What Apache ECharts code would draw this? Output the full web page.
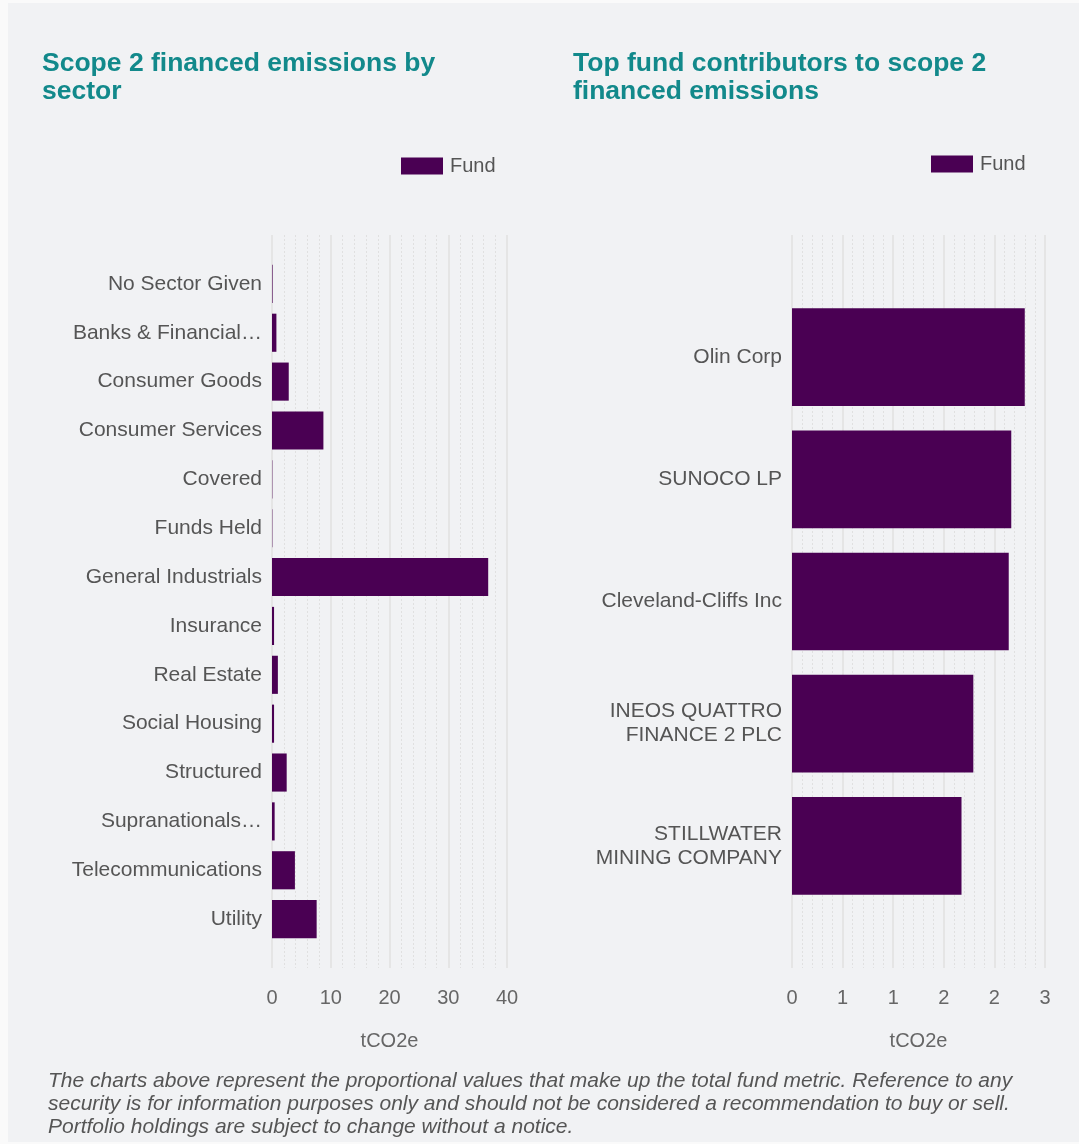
<!DOCTYPE html>
<html>
<head>
<meta charset="utf-8">
<script src="https://cdn.jsdelivr.net/npm/echarts@6/dist/echarts.min.js"></script>
<style>
html,body{margin:0;padding:0;background:#fafafa;}
#c{width:1079px;height:1144px;}
</style>
</head>
<body>
<div id="c"></div>
<script>
// ---- data ----
const sectorCategories = ['No Sector Given','Banks & Financial…','Consumer Goods','Consumer Services','Covered','Funds Held','General Industrials','Insurance','Real Estate','Social Housing','Structured','Supranationals…','Telecommunications','Utility'];
const sectorValues = [0.1, 0.75, 2.85, 8.75, 0.06, 0.06, 36.8, 0.35, 1.0, 0.35, 2.5, 0.45, 3.9, 7.6];
const sectorTicks = [0, 10, 20, 30, 40];

const fundCategories = ['Olin Corp','SUNOCO LP','Cleveland-Cliffs Inc','INEOS QUATTRO\nFINANCE 2 PLC','STILLWATER\nMINING COMPANY'];
const fundValues = [2.76, 2.60, 2.57, 2.15, 2.01];
const fundTicks = [0, 0.6, 1.2, 1.8, 2.4, 3.0];

const seriesName = 'Fund';
const titles = ['Scope 2 financed emissions by\nsector', 'Top fund contributors to scope 2\nfinanced emissions'];
const axisName = 'tCO2e';
const footnote = 'The charts above represent the proportional values that make up the total fund metric. Reference to any\nsecurity is for information purposes only and should not be considered a recommendation to buy or sell.\nPortfolio holdings are subject to change without a notice.';

// ---- layout ----
const FONT = '"Liberation Sans", Arial, sans-serif';
const BAR = '#4a0053';
const TEAL = '#12898b';
const TXT = '#555555';
const plotTop = 235, plotH = 733;
function bandGrid(left, width, n) {
  const step = plotH / (n + 1);
  return { left: left, width: width, top: plotTop + step / 2, height: step * n };
}
const L = { left: 272, width: 235 };
const R = { left: 792, width: 253 };

const chart = echarts.init(document.getElementById('c'));

function bgAxis(gridIndex, ticks, fmt) {
  return {
    type: 'value', gridIndex: gridIndex,
    min: ticks[0], max: ticks[ticks.length - 1], interval: ticks[1] - ticks[0],
    axisLine: { show: false }, axisTick: { show: false },
    axisLabel: { color: '#666', fontSize: 20, fontFamily: FONT, margin: 20, formatter: fmt },
    splitLine: { show: true, lineStyle: { color: '#e0e0e0', width: 1.5 } },
    minorTick: { show: false, splitNumber: 5 },
    minorSplitLine: { show: true, lineStyle: { color: '#e0e0e0', type: [2, 2], width: 1 } },
    name: axisName, nameLocation: 'middle', nameGap: 63,
    nameTextStyle: { color: '#666', fontSize: 20, fontFamily: FONT }
  };
}
function barXAxis(gridIndex, ticks) {
  return {
    type: 'value', gridIndex: gridIndex,
    min: ticks[0], max: ticks[ticks.length - 1], interval: ticks[1] - ticks[0],
    show: false, splitLine: { show: false }
  };
}
function catAxis(gridIndex, cats) {
  return {
    type: 'category', gridIndex: gridIndex, data: cats, inverse: true,
    axisLine: { show: false }, axisTick: { show: false },
    axisLabel: { color: TXT, fontSize: 21, fontFamily: FONT, margin: 10, lineHeight: 24 },
    splitLine: { show: false }
  };
}
function hiddenY(gridIndex) {
  return { type: 'value', gridIndex: gridIndex, show: false, min: 0, max: 1, splitLine: { show: false } };
}

const titleStyle = { color: TEAL, fontSize: 26.5, fontWeight: 'bold', fontFamily: FONT, lineHeight: 28 };
const legendBase = { icon: 'rect', itemWidth: 42, itemHeight: 17, itemGap: 7, padding: 0,
  textStyle: { color: TXT, fontSize: 20, fontFamily: FONT, padding: [0, 0, 0, 2] } };

const option = {
  animation: false,
  backgroundColor: 'transparent',
  graphic: [
    { type: 'rect', left: 8, top: 3, z: -10, shape: { width: 1071, height: 1139 }, style: { fill: '#f1f2f4' } },
    { type: 'text', left: 48, top: 1070, z: 10,
      style: { text: footnote, fill: TXT, font: 'italic 21px ' + FONT, lineHeight: 23 } }
  ],
  title: [
    { text: titles[0], left: 42, top: 50, padding: 0, textStyle: titleStyle },
    { text: titles[1], left: 573, top: 50, padding: 0, textStyle: titleStyle }
  ],
  legend: [
    Object.assign({ data: [seriesName], left: 401, top: 156 }, legendBase),
    Object.assign({ data: [seriesName], left: 931, top: 154 }, legendBase)
  ],
  grid: [
    { left: L.left, width: L.width, top: plotTop, height: plotH },
    bandGrid(L.left, L.width, sectorCategories.length),
    { left: R.left, width: R.width, top: plotTop, height: plotH },
    bandGrid(R.left, R.width, fundCategories.length)
  ],
  xAxis: [
    bgAxis(0, sectorTicks, v => String(Math.round(v))),
    barXAxis(1, sectorTicks),
    bgAxis(2, fundTicks, v => String(Math.round(v))),
    barXAxis(3, fundTicks)
  ],
  yAxis: [
    hiddenY(0),
    catAxis(1, sectorCategories),
    hiddenY(2),
    catAxis(3, fundCategories)
  ],
  series: [
    { type: 'scatter', xAxisIndex: 0, yAxisIndex: 0, data: [], silent: true },
    { name: seriesName, type: 'bar', xAxisIndex: 1, yAxisIndex: 1, data: sectorValues,
      barWidth: '78%', itemStyle: { color: BAR } },
    { type: 'scatter', xAxisIndex: 2, yAxisIndex: 2, data: [], silent: true },
    { name: seriesName, type: 'bar', xAxisIndex: 3, yAxisIndex: 3, data: fundValues,
      barWidth: '80%', itemStyle: { color: BAR } }
  ]
};
chart.setOption(option);
</script>
</body>
</html>
